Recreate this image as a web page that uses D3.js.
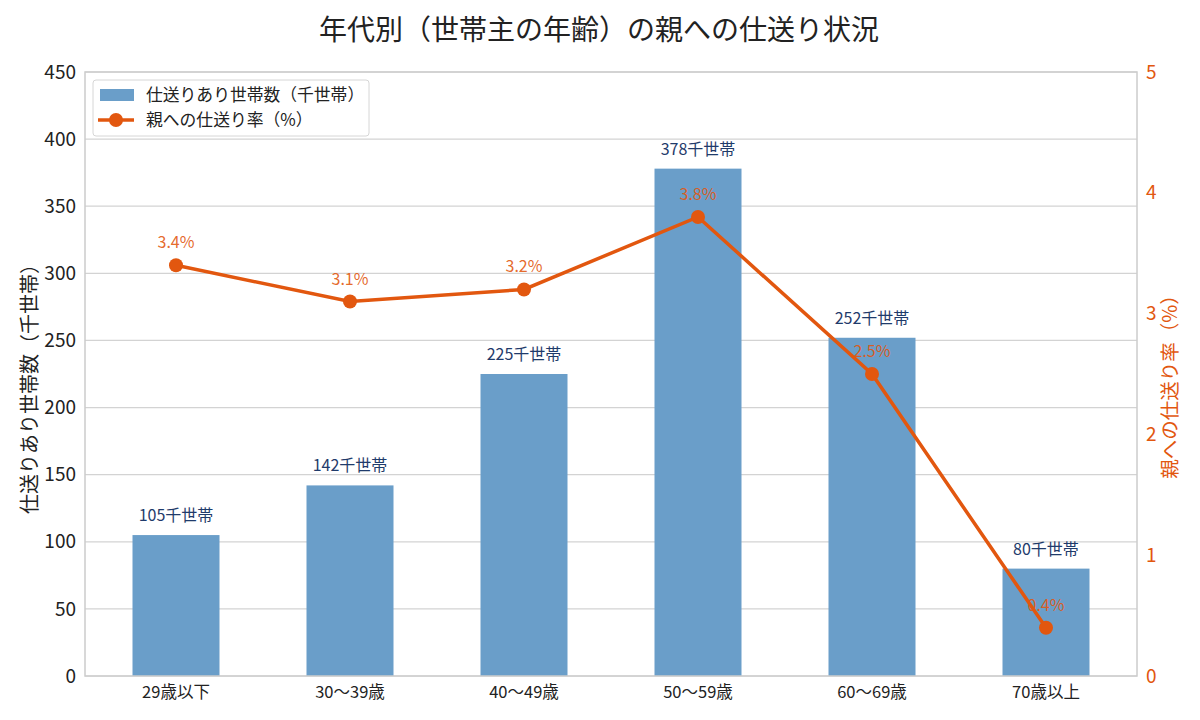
<!DOCTYPE html>
<html>
<head>
<meta charset="utf-8">
<script src="https://cdn.jsdelivr.net/npm/d3@7"></script>
<style>
  body { margin: 0; background: #fff; }
  text { font-family: "Noto Sans CJK JP", "Noto Sans", sans-serif; }
</style>
</head>
<body>
<svg id="chart"></svg>
<script>
const categories = ["29歳以下", "30〜39歳", "40〜49歳", "50〜59歳", "60〜69歳", "70歳以上"]
const households = [105, 142, 225, 378, 252, 80]
const rates = [3.4, 3.1, 3.2, 3.8, 2.5, 0.4]
const leftTicks = [0, 50, 100, 150, 200, 250, 300, 350, 400, 450]
const rightTicks = [0, 1, 2, 3, 4, 5]

const width = 1200,
    height = 720
const margin = { top: 72, right: 63, bottom: 44, left: 85 }
const innerW = width - margin.left - margin.right,
    innerH = height - margin.top - margin.bottom

const barColor = "#6a9ec9",
    lineColor = "#e2570f",
    gridColor = "#d3d3d3"

let svg = d3.select("#chart")
    .attr("width", width)
    .attr("height", height)

let g = svg.append("g").attr("transform", "translate(" + margin.left + "," + margin.top + ")")

const x = d3.scaleBand()
    .domain(categories)
    .range([0, innerW])
    .paddingInner(0.5)
    .paddingOuter(0.273)

const yL = d3.scaleLinear().domain([0, 450]).range([innerH, 0])
const yR = d3.scaleLinear().domain([0, 5]).range([innerH, 0])

// grid
g.selectAll(".grid")
    .data(leftTicks)
    .join("line")
    .attr("x1", 0).attr("x2", innerW)
    .attr("y1", d => yL(d)).attr("y2", d => yL(d))
    .attr("stroke", gridColor)
    .attr("stroke-width", 1.2)

// bars
g.selectAll(".bar")
    .data(households)
    .join("rect")
    .attr("x", (d, i) => x(categories[i]))
    .attr("y", d => yL(d))
    .attr("width", x.bandwidth())
    .attr("height", d => innerH - yL(d))
    .attr("fill", barColor)

// frame
g.append("rect")
    .attr("width", innerW).attr("height", innerH)
    .attr("fill", "none")
    .attr("stroke", "#cccccc")
    .attr("stroke-width", 1.5)

// bar labels
g.selectAll(".barLabel")
    .data(households)
    .join("text")
    .attr("x", (d, i) => x(categories[i]) + x.bandwidth() / 2)
    .attr("y", d => yL(d) - 14)
    .attr("text-anchor", "middle")
    .attr("font-size", 16)
    .attr("fill", "#1f3b6b")
    .text(d => d + "千世帯")

// rate labels
g.selectAll(".rateLabel")
    .data(rates)
    .join("text")
    .attr("x", (d, i) => x(categories[i]) + x.bandwidth() / 2)
    .attr("y", d => yR(d) - 17)
    .attr("text-anchor", "middle")
    .attr("font-size", 16)
    .attr("fill", lineColor)
    .attr("fill-opacity", 0.9)
    .text(d => d.toFixed(1) + "%")

// line
const line = d3.line()
    .x((d, i) => x(categories[i]) + x.bandwidth() / 2)
    .y(d => yR(d))

g.append("path")
    .datum(rates)
    .attr("d", line)
    .attr("fill", "none")
    .attr("stroke", lineColor)
    .attr("stroke-width", 3.5)

g.selectAll(".dot")
    .data(rates)
    .join("circle")
    .attr("cx", (d, i) => x(categories[i]) + x.bandwidth() / 2)
    .attr("cy", d => yR(d))
    .attr("r", 7)
    .attr("fill", lineColor)

// left axis ticks
g.selectAll(".lt")
    .data(leftTicks)
    .join("text")
    .attr("x", -9)
    .attr("y", d => yL(d))
    .attr("dy", "0.35em")
    .attr("text-anchor", "end")
    .attr("font-size", 19)
    .attr("fill", "#222")
    .text(d => d)

// right axis ticks
g.selectAll(".rt")
    .data(rightTicks)
    .join("text")
    .attr("x", innerW + 9)
    .attr("y", d => yR(d))
    .attr("dy", "0.35em")
    .attr("text-anchor", "start")
    .attr("font-size", 19)
    .attr("fill", lineColor)
    .text(d => d)

// category labels
g.selectAll(".ct")
    .data(categories)
    .join("text")
    .attr("x", d => x(d) + x.bandwidth() / 2)
    .attr("y", innerH + 22)
    .attr("text-anchor", "middle")
    .attr("font-size", 16.5)
    .attr("fill", "#222")
    .text(d => d)

// axis titles
svg.append("text")
    .attr("transform", "translate(37," + (margin.top + innerH / 2 + 10) + ") rotate(-90)")
    .attr("text-anchor", "middle")
    .attr("font-size", 20)
    .attr("fill", "#222")
    .text("仕送りあり世帯数（千世帯）")

svg.append("text")
    .attr("transform", "translate(1177," + (margin.top + innerH / 2 + 8) + ") rotate(-90)")
    .attr("text-anchor", "middle")
    .attr("font-size", 19.5)
    .attr("fill", lineColor)
    .text("親への仕送り率（%）")

// title
svg.append("text")
    .attr("x", margin.left + innerW / 2 - 12)
    .attr("y", 40)
    .attr("text-anchor", "middle")
    .attr("font-size", 28)
    .attr("fill", "#222")
    .text("年代別（世帯主の年齢）の親への仕送り状況")

// legend
let lg = svg.append("g").attr("transform", "translate(93,80)")
lg.append("rect")
    .attr("width", 276).attr("height", 56)
    .attr("rx", 3)
    .attr("fill", "#fff").attr("fill-opacity", 0.85)
    .attr("stroke", "#d6d6d6")
lg.append("rect")
    .attr("x", 7).attr("y", 9)
    .attr("width", 34).attr("height", 12)
    .attr("fill", barColor)
lg.append("line")
    .attr("x1", 5).attr("x2", 41)
    .attr("y1", 40).attr("y2", 40)
    .attr("stroke", lineColor).attr("stroke-width", 3.5)
lg.append("circle")
    .attr("cx", 23).attr("cy", 40).attr("r", 7)
    .attr("fill", lineColor)
lg.selectAll(".lgt")
    .data(["仕送りあり世帯数（千世帯）", "親への仕送り率（%）"])
    .join("text")
    .attr("x", 53)
    .attr("y", (d, i) => 15 + i * 25)
    .attr("dy", "0.35em")
    .attr("font-size", 16.8)
    .attr("fill", "#222")
    .text(d => d)
</script>
</body>
</html>
